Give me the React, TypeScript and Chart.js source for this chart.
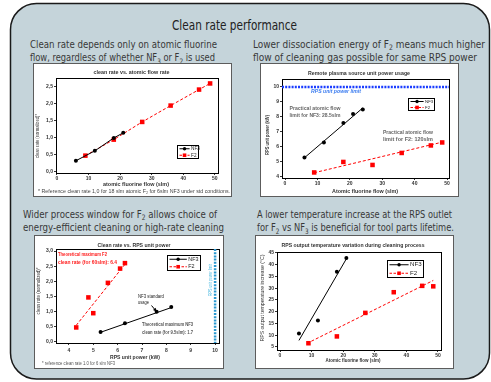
import React, { useEffect, useRef } from "react";
import { Chart, registerables } from "chart.js";
Chart.register(...registerables);

const FONT = "'Liberation Sans Narrow','Liberation Sans',Arial,sans-serif";
const seriesLabels = ["NF3", "F2"];

// Chart 1: clean rate vs atomic flow
const c1Nf3Flow = [6, 12, 18, 21];
const c1Nf3Rate = [0.33, 0.62, 1.0, 1.15];
const c1F2Flow = [9, 18, 27, 36, 45, 48.5];
const c1F2Rate = [0.48, 0.95, 1.47, 1.95, 2.42, 2.6];

// Chart 2: RPS unit power usage
const c2Nf3Flow = [6, 12, 18, 21, 24];
const c2Nf3Power = [5.3, 6.3, 7.6, 8.2, 8.5];
const c2F2Flow = [9, 18, 27, 36, 45, 48.5];
const c2F2Power = [4.3, 5.0, 4.8, 5.6, 6.1, 6.3];
const c2Nf3TrendX = [6, 24];
const c2Nf3TrendY = [5.28, 8.6];
const c2F2TrendX = [9, 48.5];
const c2F2TrendY = [4.28, 6.32];
const rpsPowerLimit = 10;

// Chart 3: clean rate vs RPS unit power
const c3Nf3Power = [5.3, 6.3, 7.6, 8.2];
const c3Nf3Rate = [0.33, 0.62, 1.0, 1.15];
const c3F2Power = [4.3, 5.0, 4.8, 5.6, 6.1, 6.3];
const c3F2Rate = [0.48, 0.95, 1.47, 1.95, 2.42, 2.6];
const c3Nf3TrendX = [5.3, 8.22];
const c3Nf3TrendY = [0.32, 1.14];
const c3F2TrendX = [4.3, 6.34];
const c3F2TrendY = [0.55, 2.6];
const nf3StandardPower = 7.6;
const nf3StandardRate = 1.0;

// Chart 4: RPS output temperature increase
const c4Nf3Flow = [6, 12, 18, 21];
const c4Nf3Temp = [10.7, 16.3, 37, 42.9];
const c4F2Flow = [9, 18, 27, 36, 45, 48.5];
const c4F2Temp = [6.6, 9.5, 19.5, 28.3, 31, 30.8];
const c4Nf3TrendX = [6, 21];
const c4Nf3TrendY = [7.8, 42.5];
const c4F2TrendX = [8.5, 48.5];
const c4F2TrendY = [6.5, 33.3];

type Txt = { size?: number; bold?: boolean; italic?: boolean; color?: string; align?: CanvasTextAlign; fitW?: number; rot?: number };
function text(ctx: CanvasRenderingContext2D, s: string, x: number, y: number, o: Txt = {}) {
  ctx.save();
  ctx.font = `${o.italic ? "italic " : ""}${o.bold ? "bold " : ""}${o.size ?? 5.5}px ${FONT}`;
  ctx.fillStyle = o.color ?? "#333";
  ctx.textAlign = o.align ?? "center";
  ctx.textBaseline = "middle";
  ctx.translate(x, y);
  if (o.rot) ctx.rotate(o.rot);
  if (o.fitW) {
    const m = ctx.measureText(s).width;
    if (m > 0) ctx.scale(o.fitW / m, 1);
  }
  ctx.fillText(s, 0, 0);
  ctx.restore();
}

function legend(ctx: CanvasRenderingContext2D, x: number, y: number, w: number, h: number) {
  ctx.save();
  ctx.fillStyle = "#fff";
  ctx.fillRect(x, y, w, h);
  ctx.strokeStyle = "#000";
  ctx.lineWidth = 1;
  ctx.strokeRect(x + 0.5, y + 0.5, w, h);
  const rows = [
    { label: seriesLabels[0], color: "#000", dash: [] as number[], shape: "circle" },
    { label: seriesLabels[1], color: "#ff0000", dash: [2.5, 1.5], shape: "rect" },
  ];
  const fs = Math.max(4, h * 0.36);
  rows.forEach((r, i) => {
    const cy = y + 0.5 + (h * (i + 0.5)) / 2;
    const x1 = x + 2.5;
    const x2 = x + w * 0.6;
    ctx.beginPath();
    ctx.setLineDash(r.dash);
    ctx.strokeStyle = r.color;
    ctx.lineWidth = 1;
    ctx.moveTo(x1, cy);
    ctx.lineTo(x2, cy);
    ctx.stroke();
    ctx.setLineDash([]);
    ctx.fillStyle = r.color;
    const mx = (x1 + x2) / 2;
    if (r.shape === "circle") {
      ctx.beginPath();
      ctx.arc(mx, cy, 1.7, 0, Math.PI * 2);
      ctx.fill();
    } else {
      ctx.fillRect(mx - 1.8, cy - 1.8, 3.6, 3.6);
    }
    text(ctx, r.label, x2 + 1.5, cy, { size: fs, align: "left", color: "#222" });
  });
  ctx.restore();
}

const pts = (xs: number[], ys: number[]) => xs.map((x, i) => ({ x, y: ys[i] }));
const nf3Set = (xs: number[], ys: number[], line: boolean) => ({
  label: seriesLabels[0], data: pts(xs, ys), showLine: line, borderColor: "#000", backgroundColor: "#000",
  borderWidth: 1, pointStyle: "circle", pointRadius: 2, pointBorderWidth: 0, order: 1,
});
const f2Set = (xs: number[], ys: number[], line: boolean) => ({
  label: seriesLabels[1], data: pts(xs, ys), showLine: line, borderColor: "#ff0000", backgroundColor: "#ff0000",
  borderWidth: 1, borderDash: [3, 2], pointStyle: "rect", pointRadius: 3.2, pointBorderWidth: 0, order: 2,
});
const trendSet = (xs: number[], ys: number[], color: string, dash: number[]) => ({
  label: "trend", data: pts(xs, ys), showLine: true, borderColor: color, borderWidth: 1, borderDash: dash,
  pointRadius: 0, order: 3,
});

type Ax = { min: number; max: number; step: number; comma?: boolean; pad: number };
type Spec = {
  x: number; y: number; w: number; h: number;
  plot: { left: number; top: number; right: number; bottom: number };
  xa: Ax; ya: Ax; datasets: any[];
  decor: (ctx: CanvasRenderingContext2D, chart: any) => void;
};

const ROT = -Math.PI / 2;

const specs: Spec[] = [
  {
    x: 33, y: 63, w: 199, h: 134,
    plot: { left: 23, top: 15, right: 185, bottom: 110 },
    xa: { min: -0.3, max: 51, step: 10, pad: 1 },
    ya: { min: -0.03, max: 2.76, step: 0.5, comma: true, pad: 1 },
    datasets: [nf3Set(c1Nf3Flow, c1Nf3Rate, true), f2Set(c1F2Flow, c1F2Rate, true)],
    decor: (ctx) => {
      text(ctx, "clean rate vs. atomic flow rate", 98.5, 9, { bold: true, fitW: 76 });
      text(ctx, "atomic fluorine flow (slm)", 103, 121.5, { bold: true, fitW: 66 });
      text(ctx, "* Reference clean rate 1,0 for 18 slm atomic F\u2082 for 6slm NF3 under std conditions.", 5, 128.5, { align: "left", fitW: 192, color: "#444" });
      text(ctx, "clean rate (normalized)*", 4, 73, { rot: ROT, fitW: 44 });
      legend(ctx, 144, 82, 21, 13);
    },
  },
  {
    x: 260, y: 63, w: 199, h: 134,
    plot: { left: 22, top: 16, right: 189, bottom: 115 },
    xa: { min: -0.93, max: 50.6, step: 10, pad: 1 },
    ya: { min: 3.93, max: 10.53, step: 1, pad: 1 },
    datasets: [
      nf3Set(c2Nf3Flow, c2Nf3Power, false), f2Set(c2F2Flow, c2F2Power, false),
      trendSet(c2Nf3TrendX, c2Nf3TrendY, "#000", []), trendSet(c2F2TrendX, c2F2TrendY, "#ff0000", [3, 2]),
    ],
    decor: (ctx, chart) => {
      const a = chart.chartArea;
      const yl = chart.scales.y.getPixelForValue(rpsPowerLimit);
      ctx.save();
      ctx.strokeStyle = "#1a3cff";
      ctx.lineWidth = 2.5;
      ctx.setLineDash([2, 1.2]);
      ctx.beginPath();
      ctx.moveTo(a.left, yl);
      ctx.lineTo(a.right, yl);
      ctx.stroke();
      ctx.restore();
      text(ctx, "Remote plasma source unit power usage", 99, 10, { bold: true, fitW: 102 });
      text(ctx, "Atomic fluorine flow (slm)", 105, 128, { bold: true, fitW: 66 });
      text(ctx, "RPS unit power (kW)", 7, 72, { rot: ROT, bold: true, fitW: 40 });
      text(ctx, "RPS unit power limit", 76, 28, { bold: true, italic: true, color: "#3b7cf0", fitW: 50 });
      text(ctx, "Practical atomic flow", 55, 45, { bold: true, color: "#666", fitW: 51 });
      text(ctx, "limit for NF3: 28.5slm", 55, 52, { bold: true, color: "#666", fitW: 51 });
      text(ctx, "Practical atomic flow", 148, 69, { bold: true, color: "#666", fitW: 50 });
      text(ctx, "limit for F2: 120slm", 148, 76, { bold: true, color: "#666", fitW: 50 });
      legend(ctx, 148, 35, 26, 12);
    },
  },
  {
    x: 34, y: 235, w: 190, h: 134,
    plot: { left: 22, top: 14, right: 185, bottom: 108 },
    xa: { min: 3.47, max: 10.16, step: 1, pad: 2.5 },
    ya: { min: -0.033, max: 3.066, step: 0.5, comma: true, pad: 1 },
    datasets: [
      nf3Set(c3Nf3Power, c3Nf3Rate, false), f2Set(c3F2Power, c3F2Rate, false),
      trendSet(c3Nf3TrendX, c3Nf3TrendY, "#000", []), trendSet(c3F2TrendX, c3F2TrendY, "#ff0000", [3, 2]),
    ],
    decor: (ctx, chart) => {
      const a = chart.chartArea;
      const xl = chart.scales.x.getPixelForValue(rpsPowerLimit);
      ctx.save();
      ctx.strokeStyle = "#2a98d0";
      ctx.lineWidth = 2.5;
      ctx.setLineDash([2, 1.2]);
      ctx.beginPath();
      ctx.moveTo(xl, a.top);
      ctx.lineTo(xl, a.bottom);
      ctx.stroke();
      ctx.restore();
      text(ctx, "RPS unit power limit", 177, 45, { rot: ROT, color: "#48b8e0", fitW: 32, size: 5 });
      text(ctx, "Clean rate vs. RPS unit power", 100, 10, { bold: true, fitW: 73 });
      text(ctx, "RPS unit power (kW)", 101, 122, { bold: true, fitW: 50 });
      text(ctx, "* reference clean rate 1.0 for 6 slm NF3", 8, 129, { align: "left", fitW: 73, size: 4.5, color: "#555" });
      text(ctx, "clean rate (normalized)*", 4, 56, { rot: ROT, fitW: 47 });
      text(ctx, "Theoretical maximum F2", 24, 19, { align: "left", bold: true, color: "#ff2020", fitW: 49 });
      text(ctx, "clean rate (for 60slm): 6.4", 24, 27, { align: "left", bold: true, color: "#ff2020", fitW: 59 });
      text(ctx, "NF3 standard", 104, 62, { align: "left", size: 4.5, color: "#222", fitW: 26 });
      text(ctx, "usage", 104, 68, { align: "left", size: 4.5, color: "#222", fitW: 11 });
      text(ctx, "Theoretical maximum NF3", 108, 89, { align: "left", bold: true, color: "#555", fitW: 51 });
      text(ctx, "clean rate (for 9.5slm): 1.7", 108, 97, { align: "left", bold: true, color: "#555", fitW: 51 });
      const tx = chart.scales.x.getPixelForValue(nf3StandardPower);
      const ty = chart.scales.y.getPixelForValue(nf3StandardRate);
      const sx = 117.5, sy = 70.5;
      const ang = Math.atan2(ty - sy, tx - sx);
      ctx.save();
      ctx.strokeStyle = "#000";
      ctx.fillStyle = "#000";
      ctx.lineWidth = 1;
      ctx.beginPath();
      ctx.moveTo(sx, sy);
      ctx.lineTo(tx - Math.cos(ang) * 2, ty - Math.sin(ang) * 2);
      ctx.stroke();
      ctx.beginPath();
      ctx.moveTo(tx, ty);
      ctx.lineTo(tx - Math.cos(ang - 0.45) * 4, ty - Math.sin(ang - 0.45) * 4);
      ctx.lineTo(tx - Math.cos(ang + 0.45) * 4, ty - Math.sin(ang + 0.45) * 4);
      ctx.closePath();
      ctx.fill();
      ctx.restore();
      legend(ctx, 133, 20, 33, 15);
    },
  },
  {
    x: 255, y: 235, w: 199, h: 134,
    plot: { left: 22, top: 17, right: 186, bottom: 115 },
    xa: { min: -0.95, max: 50.95, step: 10, pad: 0.5 },
    ya: { min: 3.72, max: 45.4, step: 5, pad: 1 },
    datasets: [
      nf3Set(c4Nf3Flow, c4Nf3Temp, false), f2Set(c4F2Flow, c4F2Temp, false),
      trendSet(c4Nf3TrendX, c4Nf3TrendY, "#000", []), trendSet(c4F2TrendX, c4F2TrendY, "#ff0000", [3, 2]),
    ],
    decor: (ctx) => {
      text(ctx, "RPS output temperature variation during cleaning process", 98, 10, { bold: true, fitW: 143 });
      text(ctx, "Atomic fluorine flow (slm)", 98, 126, { bold: true, fitW: 55, size: 5 });
      text(ctx, "RPS output temperature increase (\u00B0C)", 7, 63, { rot: ROT, fitW: 87 });
      legend(ctx, 132, 25, 36, 17);
    },
  },
];

function axis(a: Ax, fit: (sc: any) => void) {
  return {
    type: "linear",
    min: a.min,
    max: a.max,
    ticks: {
      display: true,
      stepSize: a.step,
      includeBounds: false,
      autoSkip: false,
      maxRotation: 0,
      minRotation: 0,
      padding: a.pad,
      color: "#333",
      font: { size: 5, weight: "bold", family: FONT },
      callback: (v: any) => (a.comma ? Number(v).toFixed(1).replace(".", ",") : String(v)),
    },
    grid: { drawOnChartArea: false, drawTicks: true, tickLength: 2, tickColor: "#000", tickWidth: 0.8 },
    border: { display: true, color: "#000", width: 1 },
    afterFit: fit,
  };
}

function makeConfig(s: Spec): any {
  return {
    type: "scatter",
    data: { datasets: s.datasets },
    options: {
      responsive: false,
      animation: false,
      events: [],
      layout: { padding: { top: s.plot.top, right: s.w - s.plot.right, left: 0, bottom: 0 } },
      plugins: { legend: { display: false }, title: { display: false }, tooltip: { enabled: false } },
      scales: {
        x: axis(s.xa, (sc: any) => { sc.height = s.h - s.plot.bottom; }),
        y: axis(s.ya, (sc: any) => { sc.width = s.plot.left; }),
      },
    },
    plugins: [
      {
        id: "decor",
        beforeDraw(chart: any) {
          const ctx = chart.ctx;
          ctx.save();
          ctx.fillStyle = "#fff";
          ctx.fillRect(0, 0, chart.width, chart.height);
          ctx.strokeStyle = "#5c5c5c";
          ctx.lineWidth = 1;
          ctx.strokeRect(0.5, 0.5, chart.width - 1, chart.height - 1);
          ctx.restore();
        },
        afterDraw(chart: any) {
          const ctx = chart.ctx;
          const a = chart.chartArea;
          ctx.save();
          ctx.strokeStyle = "#000";
          ctx.lineWidth = 1;
          ctx.strokeRect(Math.round(a.left) + 0.5, Math.round(a.top) + 0.5, Math.round(a.right - a.left), Math.round(a.bottom - a.top));
          ctx.restore();
          s.decor(ctx, chart);
        },
      },
    ],
  };
}

function ChartBox({ spec }: { spec: Spec }) {
  const ref = useRef<HTMLCanvasElement>(null);
  useEffect(() => {
    const chart = new Chart(ref.current as HTMLCanvasElement, makeConfig(spec));
    return () => chart.destroy();
  }, [spec]);
  return (
    <canvas
      ref={ref}
      width={spec.w}
      height={spec.h}
      style={{ position: "absolute", left: spec.x, top: spec.y, width: spec.w, height: spec.h }}
    />
  );
}

const CAP = { fontSize: 11, fill: "#383838", lengthAdjust: "spacingAndGlyphs" as const };
const SUB = { fontSize: 7.5, dy: 2.5 };
const UNSUB = { dy: -2.5 };

export default function App() {
  const ff = "'Liberation Sans Narrow','DejaVu Sans Condensed','Liberation Sans',sans-serif";
  return (
    <div style={{ position: "absolute", left: 0, top: 0, width: 491, height: 382, overflow: "hidden", background: "#fff" }}>
      <svg width={491} height={382} style={{ position: "absolute", left: 0, top: 0 }} fontFamily={ff}>
        <rect x={10.5} y={3.5} width={479} height={375.5} rx={26} ry={26} fill="#c5d4da" stroke="#1a1a1a" strokeWidth={1.5} />
        <text x={234.5} y={29.5} textAnchor="middle" fontSize={13.5} fill="#222" textLength={125} lengthAdjust="spacingAndGlyphs">Clean rate performance</text>

        <text x={30} y={47.5} {...CAP} textLength={187}>Clean rate depends only on atomic fluorine</text>
        <text x={30} y={61} {...CAP} textLength={185}>
          {"flow, regardless of whether NF"}<tspan {...SUB}>3</tspan><tspan {...UNSUB}>{" or F"}</tspan><tspan {...SUB}>2</tspan><tspan {...UNSUB}>{" is used"}</tspan>
        </text>

        <text x={253} y={47.5} {...CAP} textLength={232}>
          {"Lower dissociation energy of F"}<tspan {...SUB}>2</tspan><tspan {...UNSUB}>{" means much higher"}</tspan>
        </text>
        <text x={253} y={61} {...CAP} textLength={224}>flow of cleaning gas possible for same RPS power</text>

        <text x={23} y={217.5} {...CAP} textLength={194}>
          {"Wider process window for F"}<tspan {...SUB}>2</tspan><tspan {...UNSUB}>{" allows choice of"}</tspan>
        </text>
        <text x={23} y={231} {...CAP} textLength={201}>energy-efficient cleaning or high-rate cleaning</text>

        <text x={257} y={217.5} {...CAP} textLength={195}>A lower temperature increase at the RPS outlet</text>
        <text x={257} y={231} {...CAP} textLength={197}>
          {"for F"}<tspan {...SUB}>2</tspan><tspan {...UNSUB}>{" vs NF"}</tspan><tspan {...SUB}>3</tspan><tspan {...UNSUB}>{" is beneficial for tool parts lifetime."}</tspan>
        </text>
      </svg>
      {specs.map((s, i) => (
        <ChartBox key={i} spec={s} />
      ))}
    </div>
  );
}
